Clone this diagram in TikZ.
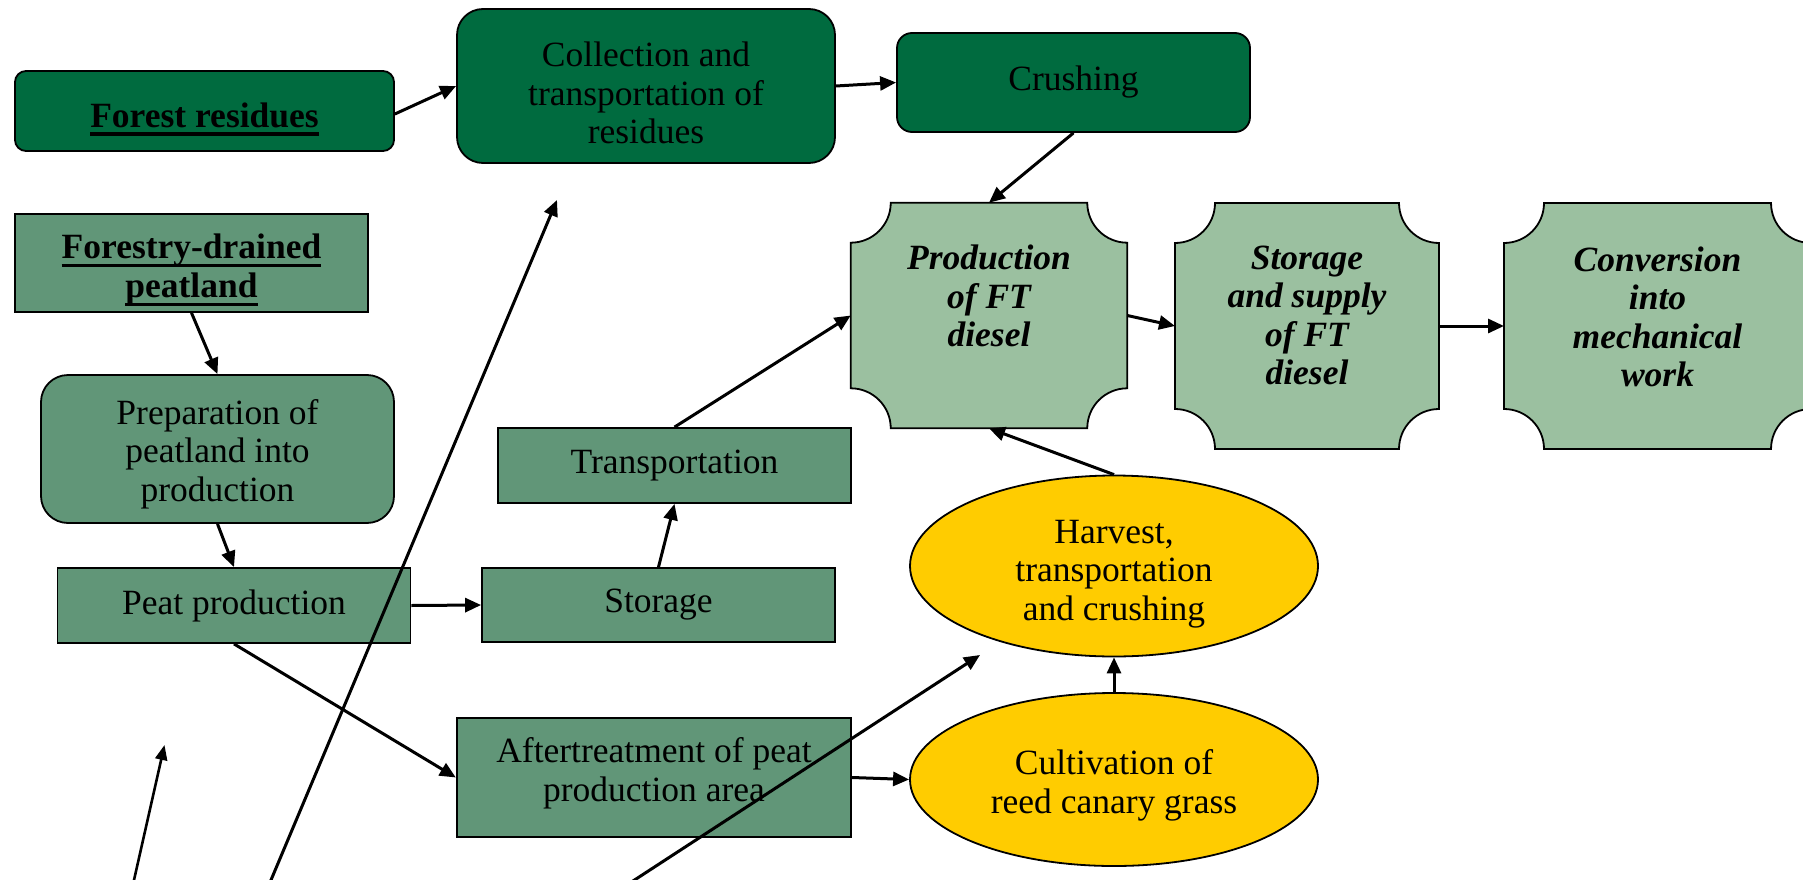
\documentclass[tikz,border=0pt]{standalone}
\usepackage{fontspec}
\setmainfont{Liberation Serif}
\usetikzlibrary{arrows.meta,shapes.geometric,calc,backgrounds}
\definecolor{dkgreen}{RGB}{0,107,63}
\definecolor{mdgreen}{RGB}{97,150,120}
\definecolor{ltgreen}{RGB}{155,192,160}
\definecolor{yel}{RGB}{255,204,0}
\newcommand\sz{\fontsize{35.5pt}{38.5pt}\selectfont}
\newsavebox\ulbox
\newcommand\thul[1]{\sbox\ulbox{#1}\rlap{\usebox\ulbox}\rule[-8.5pt]{\wd\ulbox}{3.2pt}}
\newcommand\plaque[1]{%
  \draw[line width=1.8pt, fill=ltgreen]
    ($(#1.north west)+(40pt,0)$) -- ($(#1.north east)+(-40pt,0)$)
    arc[start angle=180,end angle=270,radius=40pt]
    -- ($(#1.south east)+(0,40pt)$)
    arc[start angle=90,end angle=180,radius=40pt]
    -- ($(#1.south west)+(40pt,0)$)
    arc[start angle=0,end angle=90,radius=40pt]
    -- ($(#1.north west)+(0,-40pt)$)
    arc[start angle=270,end angle=360,radius=40pt] -- cycle;}
\tikzset{
  txt/.style={font=\sz, align=center, inner sep=0pt},
  ptxt/.style={font=\sz\bfseries\itshape, align=center, inner sep=0pt},
  base/.style={draw=black, line width=1.8pt, txt},
  dk/.style={base, fill=dkgreen},
  md/.style={base, fill=mdgreen},
  plq/.style={draw=none, inner sep=0pt, outer sep=0pt},
  ell/.style={base, ellipse, fill=yel},
  arr/.style={line width=3pt, -{Triangle[length=16pt,width=14pt]}},
  sarr/.style={line width=2.6pt, -{Triangle[length=15pt,width=12pt]}},
}
\begin{document}
\begin{tikzpicture}[x=1pt,y=1pt]
\useasboundingbox (0,0) rectangle (1803,-880);
\clip (0,0) rectangle (1803,-880);

% dark green
\node[dk, rounded corners=11pt, minimum width=379pt, minimum height=80pt,
  label={[txt,yshift=-8pt]center:{\thul{\textbf{Forest residues}}}}] (fr) at (204.5,-111) {};
\node[dk, rounded corners=26pt, minimum width=378pt, minimum height=154pt,
  label={[txt,yshift=-7pt]center:{Collection and\\transportation of\\residues}}] (coll) at (646,-86) {};
\node[dk, rounded corners=15pt, minimum width=353pt, minimum height=99pt] (crush) at (1073.5,-82.5) {Crushing};

% medium green
\node[md, minimum width=353pt, minimum height=98pt,
  label={[txt,yshift=-7pt]center:{\thul{\textbf{Forestry-drained}}\\\thul{\textbf{peatland}}}}] (fdp) at (191.5,-263) {};
\node[md, rounded corners=27pt, minimum width=353pt, minimum height=148pt,
  label={[txt,yshift=-5pt]center:{Preparation of\\peatland into\\production}}] (prep) at (217.5,-449) {};
\node[md, minimum width=353pt, minimum height=75pt] (peat) at (234,-605.5) {Peat production};
\node[md, minimum width=353pt, minimum height=74pt] (stor) at (658.5,-605) {Storage};
\node[md, minimum width=353pt, minimum height=75pt] (trans) at (674.5,-465.5) {Transportation};
\node[md, minimum width=394.5pt, minimum height=119pt,
  label={[txt,yshift=4pt]center:{Aftertreatment of peat\\production area}}] (aft) at (654,-777.5) {};

% light green plaques
\node[plq, minimum width=276.5pt, minimum height=225.6pt,
  label={[ptxt,yshift=19.5pt]center:{Production\\of FT\\diesel}}] (prod) at (989,-315.5) {};
\node[plq, minimum width=264pt, minimum height=246pt,
  label={[ptxt,yshift=10.5pt]center:{Storage\\and supply\\of FT\\diesel}}] (supp) at (1307,-326) {};
\node[plq, minimum width=307pt, minimum height=246pt,
  label={[ptxt,yshift=9pt]center:{Conversion\\into\\mechanical\\work}}] (conv) at (1657.5,-326) {};
\begin{pgfonlayer}{background}
\plaque{prod}
\plaque{supp}
\plaque{conv}
\end{pgfonlayer}

% yellow ellipses
\node[ell, minimum width=408pt, minimum height=181pt,
  label={[txt,yshift=-8pt]center:{Harvest,\\transportation\\and crushing}}] (harv) at (1114,-566) {};
\node[ell, minimum width=408pt, minimum height=173pt,
  label={[txt,yshift=-6pt]center:{Cultivation of\\reed canary grass}}] (cult) at (1114,-779.5) {};

% connectors
\draw[arr] ($(fr.east)+(0,-3)$) -- (coll.west);
\draw[arr] (coll.east) -- (crush.west);
\draw[arr] (crush.south) -- (prod.north);
\draw[arr] (fdp.south) -- (prep.north);
\draw[arr] (prep.south) -- (peat.north);
\draw[arr] (peat.east) -- (stor.west);
\draw[arr] (stor.north) -- (trans.south);
\draw[arr] (trans.north) -- (prod.west);
\draw[arr] (prod.east) -- (supp.west);
\draw[arr] (supp.east) -- (conv.west);
\draw[arr] (harv.north) -- (prod.south);
\draw[arr] (cult.north) -- (harv.south);
\draw[arr] (aft.east) -- (cult.west);
\draw[arr] (peat.south) -- (aft.west);

% loose arrows from the bottom edge
\coordinate (s1a) at (129.5,-900);
\coordinate (s1b) at (164.5,-745);
\coordinate (s2a) at (262.6,-900);
\coordinate (s2b) at (557,-200);
\coordinate (s3a) at (603.8,-900);
\coordinate (s3b) at (980,-655);
\draw[sarr] (s1a) -- (s1b);
\draw[arr] (s2a) -- (s2b);
\draw[arr] (s3a) -- (s3b);
\end{tikzpicture}
\end{document}
